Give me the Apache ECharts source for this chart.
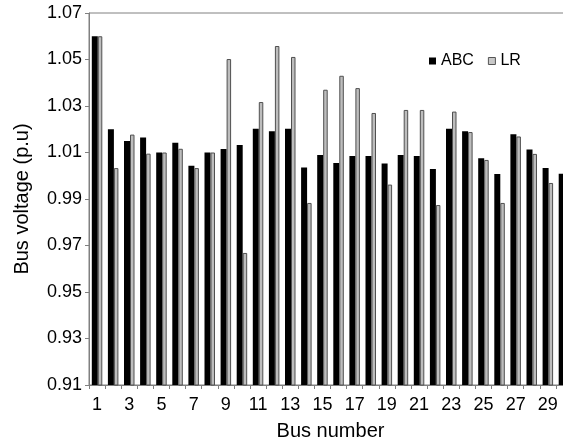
<!DOCTYPE html>
<html>
<head>
<meta charset="utf-8">
<script src="https://cdn.jsdelivr.net/npm/echarts@6/dist/echarts.min.js"></script>
<style>html,body{margin:0;padding:0;background:#fff;}#c{width:563px;height:441px;}</style>
</head>
<body>
<div id="c"></div>
<script>
var buses = ['1','2','3','4','5','6','7','8','9','10','11','12','13','14','15','16','17','18','19','20','21','22','23','24','25','26','27','28','29','30'];
var abc = [1.060,1.020,1.015,1.0165,1.010,1.0142,1.0043,1.010,1.0115,1.0132,1.0202,1.0191,1.0202,1.0036,1.0089,1.0055,1.0085,1.0085,1.0053,1.0089,1.0085,1.0029,1.0202,1.0191,1.0075,1.0008,1.0178,1.0113,1.0033,1.0009];
var lr = [1.060,1.0033,1.0177,1.0095,1.010,1.0116,1.0033,1.010,1.0502,0.9668,1.0317,1.0558,1.0511,0.9883,1.037,1.043,1.0377,1.027,0.9962,1.0283,1.0283,0.9874,1.0276,1.0188,1.0068,0.9883,1.0169,1.0094,0.9969,0.999];
var yTicks = [0.91,0.93,0.95,0.97,0.99,1.01,1.03,1.05,1.07];

var chart = echarts.init(document.getElementById('c'), null, {renderer:'canvas'});
var font = 'Liberation Sans, Arial, sans-serif';
chart.setOption({
  animation: false,
  textStyle: {fontFamily: font},
  grid: {left: 89, top: 13, bottom: 56, right: -9, outerBoundsMode: 'none', containLabel: false,
    show: true, borderColor: '#808080', borderWidth: 1, backgroundColor: 'transparent'},
  legend: {
    left: 424, top: 48,
    itemWidth: 7, itemHeight: 7, itemGap: 14,
    textStyle: {fontFamily: font, fontSize: 16, color: '#000'},
    data: [
      {name: 'ABC', icon: 'rect', itemStyle: {color: '#000', borderColor: '#000', borderWidth: 0}},
      {name: 'LR', icon: 'rect', itemStyle: {color: '#c8c8c8', borderColor: '#555', borderWidth: 1}}
    ]
  },
  xAxis: {
    type: 'category',
    data: buses,
    name: 'Bus number',
    nameLocation: 'middle',
    nameGap: 36,
    nameTextStyle: {fontFamily: font, fontSize: 20, color: '#000'},
    axisLine: {lineStyle: {color: '#808080', width: 1}},
    axisTick: {show: true, interval: 0, length: 4, lineStyle: {color: '#808080'}},
    axisLabel: {interval: 1, margin: 11, fontFamily: font, fontSize: 18, color: '#000'},
    splitLine: {show: false}
  },
  yAxis: {
    type: 'value',
    min: 0.91, max: 1.07,
    name: 'Bus voltage (p.u)',
    nameLocation: 'middle',
    nameGap: 57,
    nameTextStyle: {fontFamily: font, fontSize: 20, color: '#000'},
    axisLine: {show: true, lineStyle: {color: '#808080', width: 1}},
    axisTick: {show: true, length: 4, customValues: yTicks, lineStyle: {color: '#808080'}},
    axisLabel: {customValues: yTicks, margin: 7, fontFamily: font, fontSize: 18, color: '#000',
      formatter: function (v) { return v.toFixed(2); }},
    splitLine: {show: false}
  },
  series: [
    {name: 'ABC', type: 'bar', data: abc, barWidth: 6, barGap: '0%', clip: true,
      itemStyle: {color: '#000', borderColor: '#000', borderWidth: 0}},
    {name: 'LR', type: 'bar', data: lr, barWidth: 4.5, barGap: '0%', clip: true,
      itemStyle: {color: '#bdbdbd', borderColor: '#505050', borderWidth: 1}}
  ]
});
</script>
</body>
</html>
